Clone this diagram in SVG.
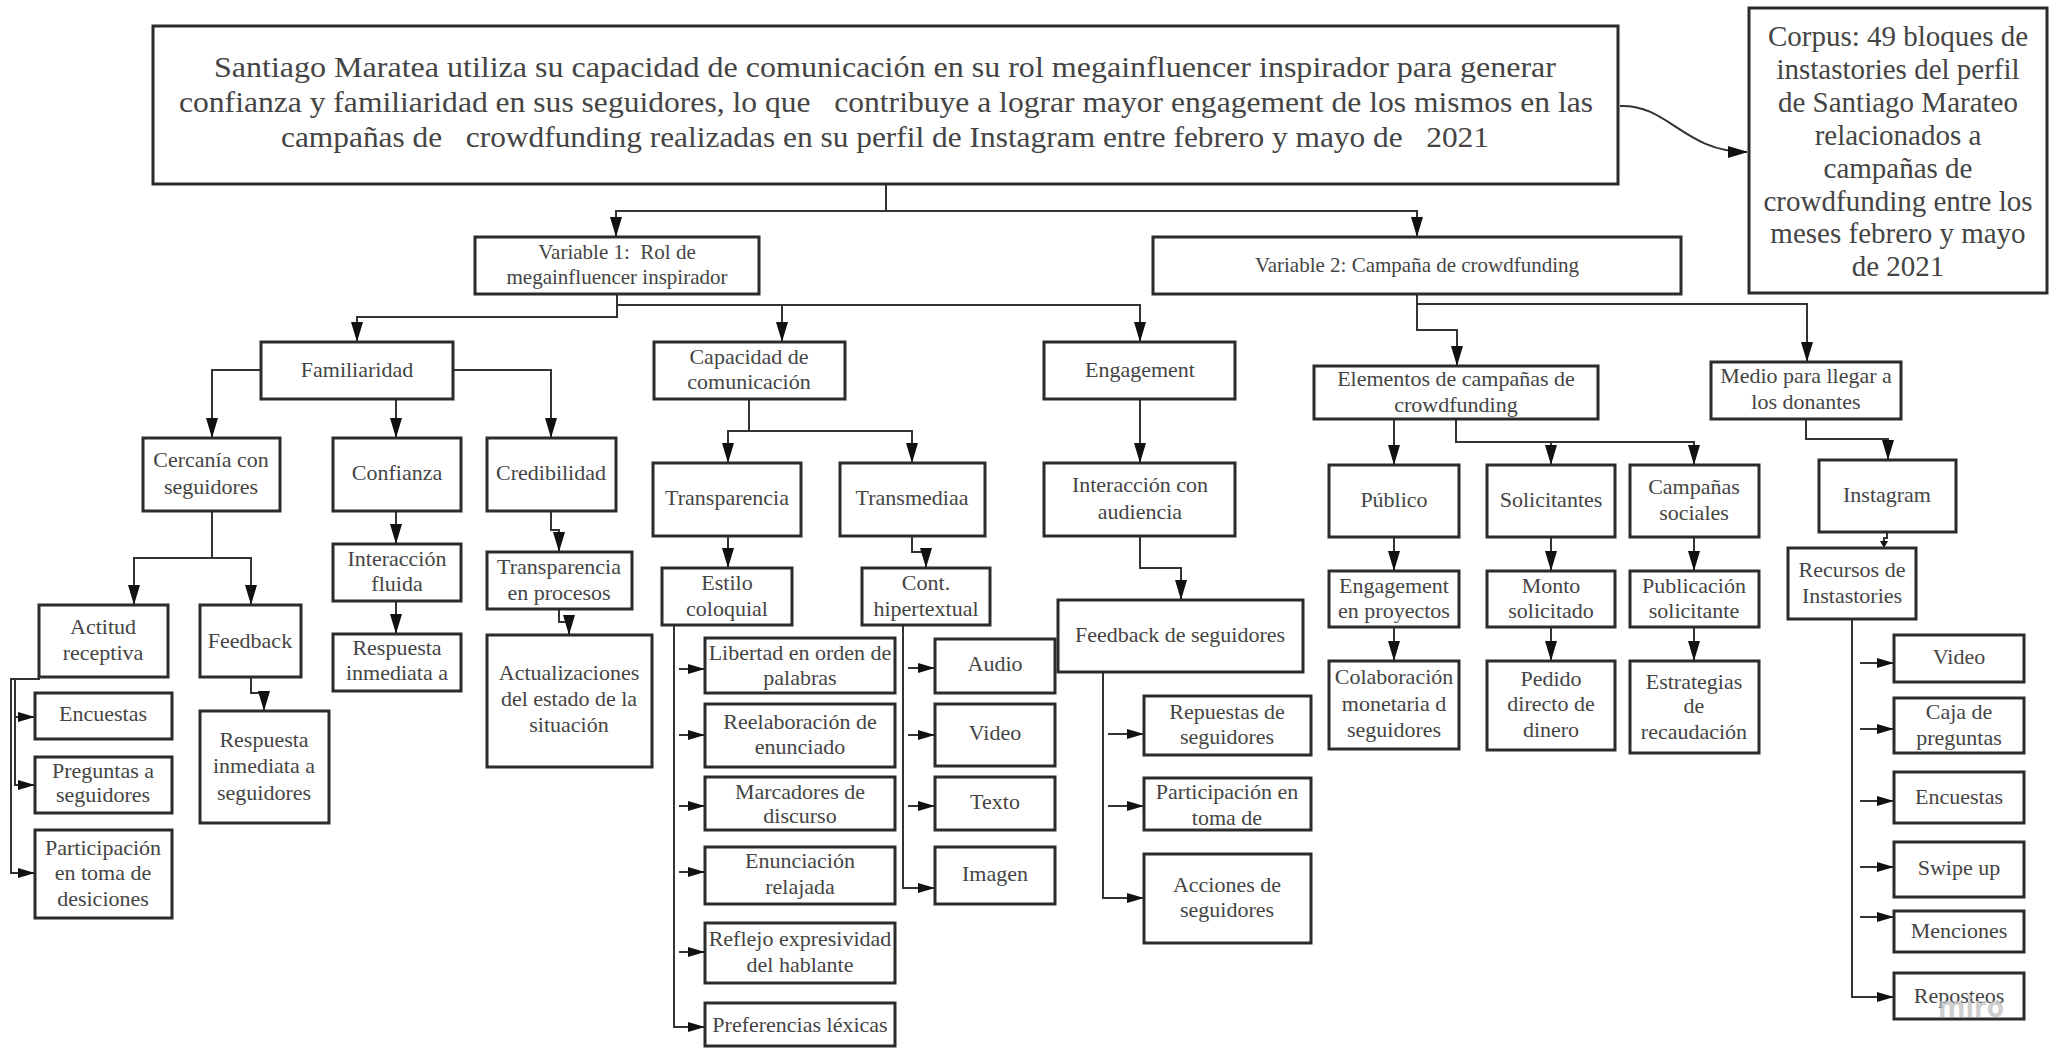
<svg xmlns="http://www.w3.org/2000/svg" width="2054" height="1048" viewBox="0 0 2054 1048">
<defs>
<style>
.b{fill:#fff;stroke:#2b2b2b;stroke-width:3}
.t{font-family:"Liberation Serif",serif;font-size:22px;fill:#444;text-anchor:middle}
.m{font-size:29px;white-space:pre}
.v{font-size:21px}
.c{fill:none;stroke:#333;stroke-width:2}
.a{marker-end:url(#ah)}
.s{marker-end:url(#ah2)}
</style>
<marker id="ah" markerUnits="userSpaceOnUse" markerWidth="20" markerHeight="12" refX="19" refY="6" orient="auto"><path d="M0,0 L20,6 L0,12 z" fill="#111"/></marker>
<marker id="ah2" markerUnits="userSpaceOnUse" markerWidth="17" markerHeight="10" refX="16" refY="5" orient="auto"><path d="M0,0 L17,5 L0,10 z" fill="#111"/></marker>
</defs>
<rect width="2054" height="1048" fill="#fff"/>

<g id="connectors">
<path class="c a" d="M886,184 V211 H616 V236"/>
<path class="c a" d="M886,211 H1417 V236"/>
<path class="c a" d="M1620,106 C1668,104 1684,152 1747,152"/>
<path class="c a" d="M617,294 V317 H357 V341"/>
<path class="c a" d="M617,294 V305 H782 V341"/>
<path class="c a" d="M782,305 H1140 V341"/>
<path class="c a" d="M261,370 H212 V437"/>
<path class="c a" d="M396,399 V437"/>
<path class="c a" d="M453,370 H551 V437"/>
<path class="c a" d="M212,511 V558 H134 V604"/>
<path class="c a" d="M212,558 H251 V604"/>
<path class="c s" d="M40,679 H15 V717 H34"/>
<path class="c s" d="M15,717 V785 H34"/>
<path class="c s" d="M40,679 H11 V873 H34"/>
<path class="c a" d="M251,677 V693 H264 V710"/>
<path class="c a" d="M396,511 V543"/>
<path class="c a" d="M396,601 V633"/>
<path class="c a" d="M551,511 V530 H559 V551"/>
<path class="c a" d="M559,609 V622 H569 V634"/>
<path class="c a" d="M749,399 V431 H728 V462"/>
<path class="c a" d="M749,431 H912 V462"/>
<path class="c a" d="M728,536 V567"/>
<path class="c a" d="M912,536 V552 H926 V567"/>
<path class="c s" d="M674,625 V1027 H704"/>
<path class="c s" d="M679,669 H704"/>
<path class="c s" d="M679,735 H704"/>
<path class="c s" d="M679,806 H704"/>
<path class="c s" d="M679,872 H704"/>
<path class="c s" d="M679,952 H704"/>
<path class="c s" d="M903,625 V888 H934"/>
<path class="c s" d="M908,668 H934"/>
<path class="c s" d="M908,735 H934"/>
<path class="c s" d="M908,806 H934"/>
<path class="c a" d="M1140,399 V462"/>
<path class="c a" d="M1140,536 V568 H1181 V599"/>
<path class="c s" d="M1103,672 V898 H1143"/>
<path class="c s" d="M1108,734 H1143"/>
<path class="c s" d="M1108,806 H1143"/>
<path class="c a" d="M1417,294 V330 H1457 V365"/>
<path class="c a" d="M1417,304 H1807 V361"/>
<path class="c a" d="M1394,419 V464"/>
<path class="c a" d="M1456,419 V442 H1551 V464"/>
<path class="c a" d="M1551,442 H1694 V464"/>
<path class="c a" d="M1394,537 V570"/>
<path class="c a" d="M1551,537 V570"/>
<path class="c a" d="M1694,537 V570"/>
<path class="c a" d="M1394,627 V660"/>
<path class="c a" d="M1551,627 V660"/>
<path class="c a" d="M1694,627 V660"/>
<path class="c a" d="M1806,419 V439 H1888 V459"/>
<path class="c" d="M1887,532 V538 H1884 V542"/>
<path d="M1880,541 L1888,541 L1884,548 z" fill="#111"/>
<path class="c s" d="M1852,619 V997 H1893"/>
<path class="c s" d="M1860,663 H1893"/>
<path class="c s" d="M1860,729 H1893"/>
<path class="c s" d="M1860,801 H1893"/>
<path class="c s" d="M1860,867 H1893"/>
<path class="c s" d="M1860,917 H1893"/>
</g>

<g id="main">
<rect class="b" x="153" y="26" width="1465" height="158"/>
<text class="t m" x="885" y="77" textLength="1342" lengthAdjust="spacingAndGlyphs">Santiago Maratea utiliza su capacidad de comunicación en su rol megainfluencer inspirador para generar</text>
<text class="t m" x="886" y="112" textLength="1414" lengthAdjust="spacingAndGlyphs">confianza y familiaridad en sus seguidores, lo que   contribuye a lograr mayor engagement de los mismos en las</text>
<text class="t m" x="885" y="147" textLength="1208" lengthAdjust="spacingAndGlyphs">campañas de   crowdfunding realizadas en su perfil de Instagram entre febrero y mayo de   2021</text>
</g>

<g id="corpus">
<rect class="b" x="1749" y="8" width="298" height="285"/>
<text class="t m" x="1898" y="46">Corpus: 49 bloques de</text>
<text class="t m" x="1898" y="79">instastories del perfil</text>
<text class="t m" x="1898" y="112">de Santiago Marateo</text>
<text class="t m" x="1898" y="145">relacionados a</text>
<text class="t m" x="1898" y="178">campañas de</text>
<text class="t m" x="1898" y="211">crowdfunding entre los</text>
<text class="t m" x="1898" y="243">meses febrero y mayo</text>
<text class="t m" x="1898" y="276">de 2021</text>
</g>

<g id="var1">
<rect class="b" x="475" y="237" width="284" height="57"/>
<text class="t v" x="617" y="259" style="white-space:pre">Variable 1:  Rol de</text>
<text class="t v" x="617" y="284">megainfluencer inspirador</text>
</g>
<g id="var2">
<rect class="b" x="1153" y="237" width="528" height="57"/>
<text class="t v" x="1417" y="272">Variable 2: Campaña de crowdfunding</text>
</g>

<g id="familiaridad"><rect class="b" x="261" y="342" width="192" height="57"/><text class="t" x="357" y="377">Familiaridad</text></g>
<g id="capacidad"><rect class="b" x="654" y="342" width="191" height="57"/><text class="t" x="749" y="364">Capacidad de</text><text class="t" x="749" y="389">comunicación</text></g>
<g id="engagement"><rect class="b" x="1044" y="342" width="191" height="57"/><text class="t" x="1140" y="377">Engagement</text></g>
<g id="elementos"><rect class="b" x="1314" y="366" width="284" height="53"/><text class="t" x="1456" y="386">Elementos de campañas de</text><text class="t" x="1456" y="412">crowdfunding</text></g>
<g id="medio"><rect class="b" x="1711" y="362" width="190" height="57"/><text class="t" x="1806" y="383">Medio para llegar a</text><text class="t" x="1806" y="409">los donantes</text></g>

<g id="cercania"><rect class="b" x="143" y="438" width="137" height="73"/><text class="t" x="211" y="467">Cercanía con</text><text class="t" x="211" y="494">seguidores</text></g>
<g id="confianza"><rect class="b" x="333" y="438" width="128" height="73"/><text class="t" x="397" y="480">Confianza</text></g>
<g id="credibilidad"><rect class="b" x="487" y="438" width="129" height="73"/><text class="t" x="551" y="480">Credibilidad</text></g>
<g id="transparencia"><rect class="b" x="653" y="463" width="148" height="73"/><text class="t" x="727" y="505">Transparencia</text></g>
<g id="transmediaa"><rect class="b" x="840" y="463" width="145" height="73"/><text class="t" x="912" y="505">Transmediaa</text></g>
<g id="interaccion-audiencia"><rect class="b" x="1044" y="463" width="191" height="73"/><text class="t" x="1140" y="492">Interacción con</text><text class="t" x="1140" y="519">audiencia</text></g>
<g id="publico"><rect class="b" x="1329" y="465" width="130" height="72"/><text class="t" x="1394" y="507">Público</text></g>
<g id="solicitantes"><rect class="b" x="1487" y="465" width="128" height="72"/><text class="t" x="1551" y="507">Solicitantes</text></g>
<g id="campanas-sociales"><rect class="b" x="1630" y="465" width="129" height="72"/><text class="t" x="1694" y="494">Campañas</text><text class="t" x="1694" y="520">sociales</text></g>
<g id="instagram"><rect class="b" x="1819" y="460" width="137" height="72"/><text class="t" x="1887" y="502">Instagram</text></g>

<g id="interaccion-fluida"><rect class="b" x="333" y="544" width="128" height="57"/><text class="t" x="397" y="566">Interacción</text><text class="t" x="397" y="591">fluida</text></g>
<g id="transparencia-procesos"><rect class="b" x="487" y="552" width="145" height="57"/><text class="t" x="559" y="574">Transparencia</text><text class="t" x="559" y="600">en procesos</text></g>
<g id="estilo"><rect class="b" x="662" y="568" width="130" height="57"/><text class="t" x="727" y="590">Estilo</text><text class="t" x="727" y="616">coloquial</text></g>
<g id="cont"><rect class="b" x="862" y="568" width="128" height="57"/><text class="t" x="926" y="590">Cont.</text><text class="t" x="926" y="616">hipertextual</text></g>
<g id="feedback-seguidores"><rect class="b" x="1058" y="600" width="245" height="72"/><text class="t" x="1180" y="642">Feedback de seguidores</text></g>
<g id="engagement-proyectos"><rect class="b" x="1329" y="571" width="130" height="56"/><text class="t" x="1394" y="593">Engagement</text><text class="t" x="1394" y="618">en proyectos</text></g>
<g id="monto"><rect class="b" x="1487" y="571" width="128" height="56"/><text class="t" x="1551" y="593">Monto</text><text class="t" x="1551" y="618">solicitado</text></g>
<g id="publicacion"><rect class="b" x="1630" y="571" width="129" height="56"/><text class="t" x="1694" y="593">Publicación</text><text class="t" x="1694" y="618">solicitante</text></g>
<g id="recursos"><rect class="b" x="1788" y="548" width="128" height="71"/><text class="t" x="1852" y="577">Recursos de</text><text class="t" x="1852" y="603">Instastories</text></g>

<g id="actitud"><rect class="b" x="39" y="605" width="129" height="72"/><text class="t" x="103" y="634">Actitud</text><text class="t" x="103" y="660">receptiva</text></g>
<g id="feedback"><rect class="b" x="200" y="605" width="101" height="72"/><text class="t" x="250" y="648">Feedback</text></g>
<g id="respuesta-a"><rect class="b" x="333" y="634" width="128" height="57"/><text class="t" x="397" y="655">Respuesta</text><text class="t" x="397" y="680">inmediata a</text></g>
<g id="actualizaciones"><rect class="b" x="487" y="635" width="165" height="132"/><text class="t" x="569" y="680">Actualizaciones</text><text class="t" x="569" y="706">del estado de la</text><text class="t" x="569" y="732">situación</text></g>

<g id="encuestas-1"><rect class="b" x="35" y="693" width="137" height="46"/><text class="t" x="103" y="721">Encuestas</text></g>
<g id="preguntas"><rect class="b" x="35" y="757" width="137" height="56"/><text class="t" x="103" y="778">Preguntas a</text><text class="t" x="103" y="802">seguidores</text></g>
<g id="participacion-1"><rect class="b" x="35" y="830" width="137" height="88"/><text class="t" x="103" y="855">Participación</text><text class="t" x="103" y="880">en toma de</text><text class="t" x="103" y="906">desiciones</text></g>
<g id="respuesta-seguidores"><rect class="b" x="200" y="711" width="129" height="112"/><text class="t" x="264" y="747">Respuesta</text><text class="t" x="264" y="773">inmediata a</text><text class="t" x="264" y="800">seguidores</text></g>

<g id="libertad"><rect class="b" x="705" y="638" width="190" height="55"/><text class="t" x="800" y="660">Libertad en orden de</text><text class="t" x="800" y="685">palabras</text></g>
<g id="reelaboracion"><rect class="b" x="705" y="704" width="190" height="63"/><text class="t" x="800" y="729">Reelaboración de</text><text class="t" x="800" y="754">enunciado</text></g>
<g id="marcadores"><rect class="b" x="705" y="777" width="190" height="53"/><text class="t" x="800" y="799">Marcadores de</text><text class="t" x="800" y="823">discurso</text></g>
<g id="enunciacion"><rect class="b" x="705" y="847" width="190" height="57"/><text class="t" x="800" y="868">Enunciación</text><text class="t" x="800" y="894">relajada</text></g>
<g id="reflejo"><rect class="b" x="705" y="923" width="190" height="60"/><text class="t" x="800" y="946">Reflejo expresividad</text><text class="t" x="800" y="972">del hablante</text></g>
<g id="preferencias"><rect class="b" x="705" y="1003" width="190" height="43"/><text class="t" x="800" y="1032">Preferencias léxicas</text></g>

<g id="audio"><rect class="b" x="935" y="639" width="120" height="54"/><text class="t" x="995" y="671">Audio</text></g>
<g id="video-1"><rect class="b" x="935" y="704" width="120" height="62"/><text class="t" x="995" y="740">Video</text></g>
<g id="texto"><rect class="b" x="935" y="777" width="120" height="53"/><text class="t" x="995" y="809">Texto</text></g>
<g id="imagen"><rect class="b" x="935" y="847" width="120" height="57"/><text class="t" x="995" y="881">Imagen</text></g>

<g id="repuestas"><rect class="b" x="1144" y="696" width="167" height="59"/><text class="t" x="1227" y="719">Repuestas de</text><text class="t" x="1227" y="744">seguidores</text></g>
<g id="participacion-2"><rect class="b" x="1144" y="778" width="167" height="52"/><text class="t" x="1227" y="799">Participación en</text><text class="t" x="1227" y="825">toma de</text></g>
<g id="acciones"><rect class="b" x="1144" y="854" width="167" height="89"/><text class="t" x="1227" y="892">Acciones de</text><text class="t" x="1227" y="917">seguidores</text></g>

<g id="colaboracion"><rect class="b" x="1329" y="661" width="130" height="88"/><text class="t" x="1394" y="684">Colaboración</text><text class="t" x="1394" y="711">monetaria d</text><text class="t" x="1394" y="737">seguidores</text></g>
<g id="pedido"><rect class="b" x="1487" y="661" width="128" height="89"/><text class="t" x="1551" y="686">Pedido</text><text class="t" x="1551" y="711">directo de</text><text class="t" x="1551" y="737">dinero</text></g>
<g id="estrategias"><rect class="b" x="1630" y="661" width="129" height="92"/><text class="t" x="1694" y="689">Estrategias</text><text class="t" x="1694" y="713">de</text><text class="t" x="1694" y="739">recaudación</text></g>

<g id="video-2"><rect class="b" x="1894" y="635" width="130" height="47"/><text class="t" x="1959" y="664">Video</text></g>
<g id="caja"><rect class="b" x="1894" y="698" width="130" height="55"/><text class="t" x="1959" y="719">Caja de</text><text class="t" x="1959" y="745">preguntas</text></g>
<g id="encuestas-2"><rect class="b" x="1894" y="772" width="130" height="51"/><text class="t" x="1959" y="804">Encuestas</text></g>
<g id="swipe"><rect class="b" x="1894" y="842" width="130" height="55"/><text class="t" x="1959" y="875">Swipe up</text></g>
<g id="menciones"><rect class="b" x="1894" y="911" width="130" height="41"/><text class="t" x="1959" y="938">Menciones</text></g>
<g id="reposteos"><rect class="b" x="1894" y="973" width="130" height="46"/><text class="t" x="1959" y="1003">Reposteos</text></g>

<text x="1971" y="1017" font-family="'Open Sans',sans-serif" font-size="28" font-weight="bold" fill="#c4c4c4" text-anchor="middle" opacity="0.8">miro</text>
</svg>
